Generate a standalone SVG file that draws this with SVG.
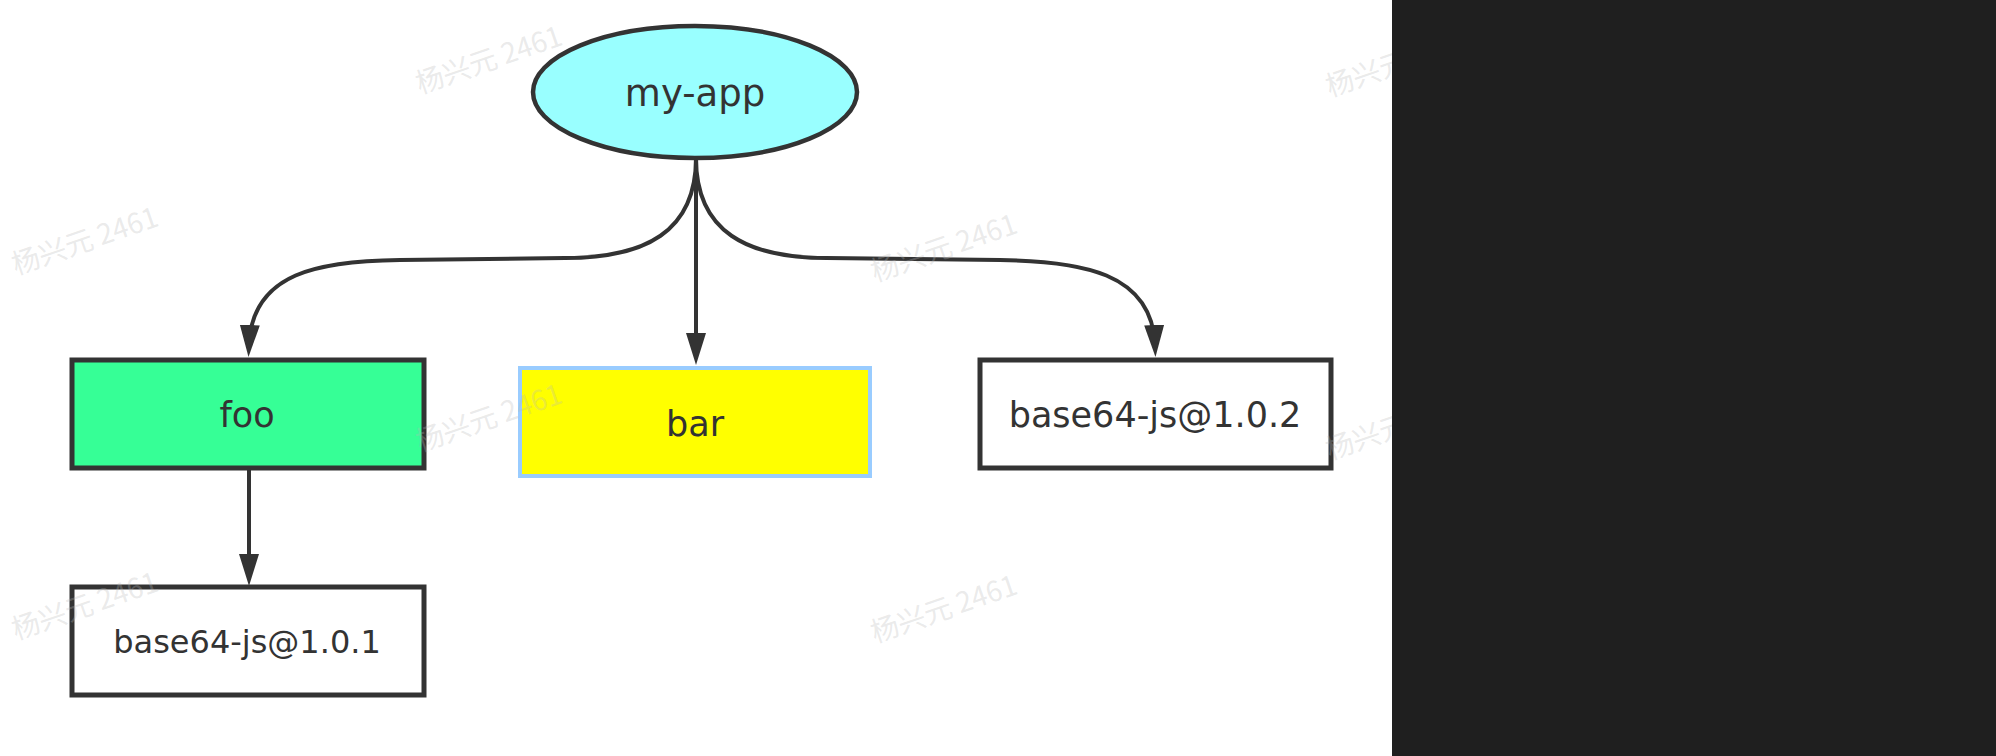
<svg xmlns="http://www.w3.org/2000/svg" width="1996" height="756" viewBox="0 0 1996 756">
  <style>
    .box { stroke: #333333; stroke-width: 5; }
    .lbl { font-family: "DejaVu Sans", Verdana, sans-serif; fill: #333333; text-anchor: middle; }
    .edge { fill: none; stroke: #333333; stroke-width: 4; }
    .wm { font-family: "Noto Sans CJK SC", "Noto Sans", sans-serif; font-size: 28px; fill: #b8b8b8; fill-opacity: 0.3; }
  </style>
  <defs>
    <marker id="arrow" markerUnits="userSpaceOnUse" markerWidth="34" markerHeight="22" refX="20" refY="10" orient="auto">
      <path d="M0,0 L32,10 L0,20 Z" fill="#333333"/>
    </marker>
  </defs>
  <rect x="0" y="0" width="1996" height="756" fill="#ffffff"/>

  <g id="connectors">
    <path class="edge" d="M696,158 C696,232 645,258 565,258 L400,260 C320,261 252,272 249,345" marker-end="url(#arrow)"/>
    <path class="edge" d="M696,158 L696,353" marker-end="url(#arrow)"/>
    <path class="edge" d="M696,158 C696,232 747,258 827,258 L1000,260 C1080,261 1152,272 1155,345" marker-end="url(#arrow)"/>
    <path class="edge" d="M249,468 L249,574" marker-end="url(#arrow)"/>
  </g>

  <g id="node-my-app">
    <ellipse cx="695" cy="92" rx="162" ry="66" fill="#99ffff" stroke="#333333" stroke-width="4.5"/>
    <text class="lbl" x="695" y="106" font-size="37">my-app</text>
  </g>

  <g id="node-foo">
    <rect class="box" x="72" y="360" width="352" height="108" fill="#36ff96"/>
    <text class="lbl" x="247" y="427" font-size="35">foo</text>
  </g>

  <g id="node-bar">
    <rect x="520" y="368" width="350" height="108" fill="#ffff00" stroke="#99ccff" stroke-width="4"/>
    <text class="lbl" x="695" y="436" font-size="35">bar</text>
  </g>

  <g id="node-base64-102">
    <rect class="box" x="980" y="360" width="351" height="108" fill="#ffffff"/>
    <text class="lbl" x="1155" y="427" font-size="35">base64-js@1.0.2</text>
  </g>

  <g id="node-base64-101">
    <rect class="box" x="72" y="587" width="352" height="108" fill="#ffffff"/>
    <text class="lbl" x="247" y="653" font-size="32">base64-js@1.0.1</text>
  </g>

  <g id="watermarks">
    <text class="wm" transform="translate(16,275) rotate(-19)">杨兴元 2461</text>
    <text class="wm" transform="translate(16,640) rotate(-19)">杨兴元 2461</text>
    <text class="wm" transform="translate(420,94) rotate(-19)">杨兴元 2461</text>
    <text class="wm" transform="translate(420,452) rotate(-19)">杨兴元 2461</text>
    <text class="wm" transform="translate(875,282) rotate(-19)">杨兴元 2461</text>
    <text class="wm" transform="translate(875,643) rotate(-19)">杨兴元 2461</text>
    <text class="wm" transform="translate(1330,97) rotate(-19)">杨兴元 2461</text>
    <text class="wm" transform="translate(1330,460) rotate(-19)">杨兴元 2461</text>
  </g>

  <rect id="dark-panel" x="1392" y="0" width="604" height="756" fill="#1f1f1f"/>
</svg>
